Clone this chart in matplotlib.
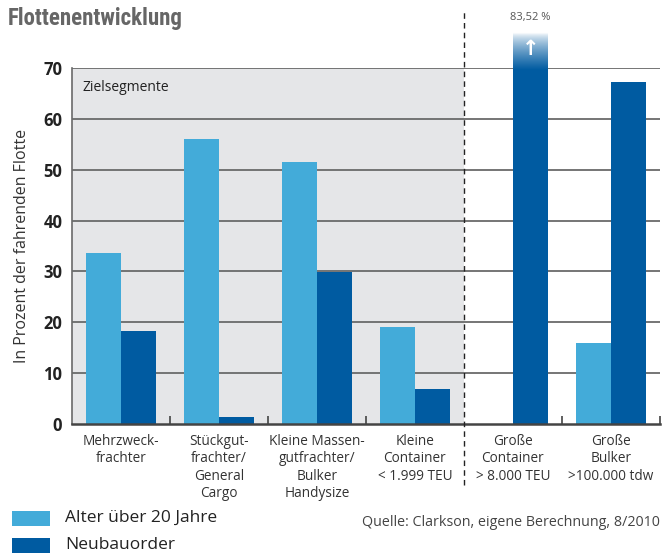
import matplotlib
matplotlib.use("Agg")
import matplotlib.pyplot as plt
import numpy as np
from matplotlib import font_manager as fm
from matplotlib.patches import Rectangle

categories = ["Mehrzweck-\nfrachter", "Stückgut-\nfrachter/\nGeneral\nCargo",
              "Kleine Massen-\ngutfrachter/\nBulker\nHandysize",
              "Kleine\nContainer\n< 1.999 TEU", "Große\nContainer\n> 8.000 TEU",
              "Große\nBulker\n>100.000 tdw"]
alter = [33.6, 56.0, 51.5, 19.1, 0.0, 15.9]
neubau = [18.3, 1.4, 29.9, 6.9, 83.52, 67.2]
yticks = [0, 10, 20, 30, 40, 50, 60, 70]
series_names = ["Alter über 20 Jahre", "Neubauorder"]

LIGHT = "#43abd9"
DARK = "#005ba1"
GRAY_BG = "#e5e6e8"
GRID = "#6a6a6a"
TXT = "#333333"

names = {f.name for f in fm.fontManager.ttflist}
base = "Open Sans" if "Open Sans" in names else "DejaVu Sans"
plt.rcParams['font.family'] = [base, 'DejaVu Sans']
cond = None
for c in ["Liberation Sans Narrow", "DejaVu Sans Condensed", "Roboto Condensed"]:
    if c in names:
        cond = c
        break

fig = plt.figure(figsize=(6.63, 5.53), dpi=100)
ax = fig.add_axes([72/663, 1-424/553, 588/663, 356/553])

ymax = 70
x = np.arange(len(categories))
w = 0.357

# background shading for target segments
ax.add_patch(Rectangle((-0.5, 0), 4.0, ymax, facecolor=GRAY_BG, edgecolor="none", zorder=0))
for yv in yticks[1:]:
    ax.axhline(yv, color=GRID, lw=1.3, zorder=1)

ax.bar(x - w/2, alter, w, color=LIGHT, zorder=2, align='center')
clipped = [min(v, ymax) for v in neubau]
ax.bar(x + w/2, clipped, w, color=DARK, zorder=2, align='center')

# gradient over-bar for clipped value
for i, v in enumerate(neubau):
    if v > ymax:
        top = 77.3
        n = 100
        frac = np.linspace(0, 1, n)  # 0 bottom -> 1 top
        t = np.clip(1 - frac * 1.05, 0, 1) ** 0.7  # 1 = dark, 0 = white
        c0 = np.array([1.0, 1.0, 1.0])
        c1 = np.array(matplotlib.colors.to_rgb(DARK))
        img = (c0[None, :] * (1 - t[:, None]) + c1[None, :] * t[:, None])[:, None, :]
        img = np.repeat(img, 2, axis=1)
        ax.imshow(img, extent=[i, i + w, ymax - 0.3, top], origin='lower',
                  aspect='auto', zorder=3, clip_on=False, interpolation='bilinear')
        ax.text(i + w/2, 73.8, "↑", ha='center', va='center', color='white',
                fontsize=15, fontweight='bold', family='DejaVu Sans', zorder=4, clip_on=False)
        ax.text(i + w/2, 79.9, f"{v:.2f} %".replace('.', ','), ha='center', va='center',
                color="#555555", fontsize=8, clip_on=False)

ax.set_xlim(-0.5, 5.5)
ax.set_ylim(0, ymax)

for s in ['top', 'right']:
    ax.spines[s].set_visible(False)
ax.spines['left'].set_color(GRID)
ax.spines['left'].set_linewidth(1.2)
ax.spines['bottom'].set_color("#444444")
ax.spines['bottom'].set_linewidth(1.8)

ax.set_yticks(yticks)
ax.set_yticklabels([str(v) for v in yticks], fontsize=12, fontweight='bold', color="#222222")
ax.tick_params(axis='y', length=0, pad=7)

ax.set_xticks([0.5, 1.5, 2.5, 4.5, 5.5])
ax.set_xticklabels([])
ax.tick_params(axis='x', direction='in', length=6, width=1.2, color="#444444")
for i, lab in enumerate(categories):
    ax.text(i, -1.9, lab, ha='center', va='top', fontsize=9.8, color=TXT,
            linespacing=1.22, clip_on=False)

# dashed separator
ax.plot([3.5, 3.5], [-12.0, 81.5], ls=(0, (4, 3)), color="#222222", lw=1.0,
        clip_on=False, zorder=5)

ax.text(-0.388, 66.1, "Zielsegmente", ha='left', va='center', fontsize=10, color="#222222")

ax.set_ylabel("In Prozent der fahrenden Flotte", fontsize=11.5, color=TXT)
ax.yaxis.set_label_coords(-0.072, 0.5)

# title
tkw = dict(fontsize=16.5, fontweight='bold', color="#666666", ha='left', va='center')
if cond:
    fig.text(8/663, 1-19/553, "Flottenentwicklung", family=cond, **tkw)
else:
    fig.text(8/663, 1-19/553, "Flottenentwicklung", fontstretch='condensed', **tkw)

# legend
for j, (nm, col) in enumerate(zip(series_names, [LIGHT, DARK])):
    yc = 518 + j * 27
    fig.patches.append(Rectangle((12/663, 1-(yc+7.5)/553), 38/663, 15/553,
                                 transform=fig.transFigure, facecolor=col, edgecolor='none'))
    fig.text(65/663, 1-yc/553, nm, fontsize=12.5, color="#222222", ha='left', va='center')

fig.text(660/663, 1-522/553, "Quelle: Clarkson, eigene Berechnung, 8/2010",
         fontsize=10.3, color="#444444", ha='right', va='center')

fig.savefig("out.png", dpi=100)
